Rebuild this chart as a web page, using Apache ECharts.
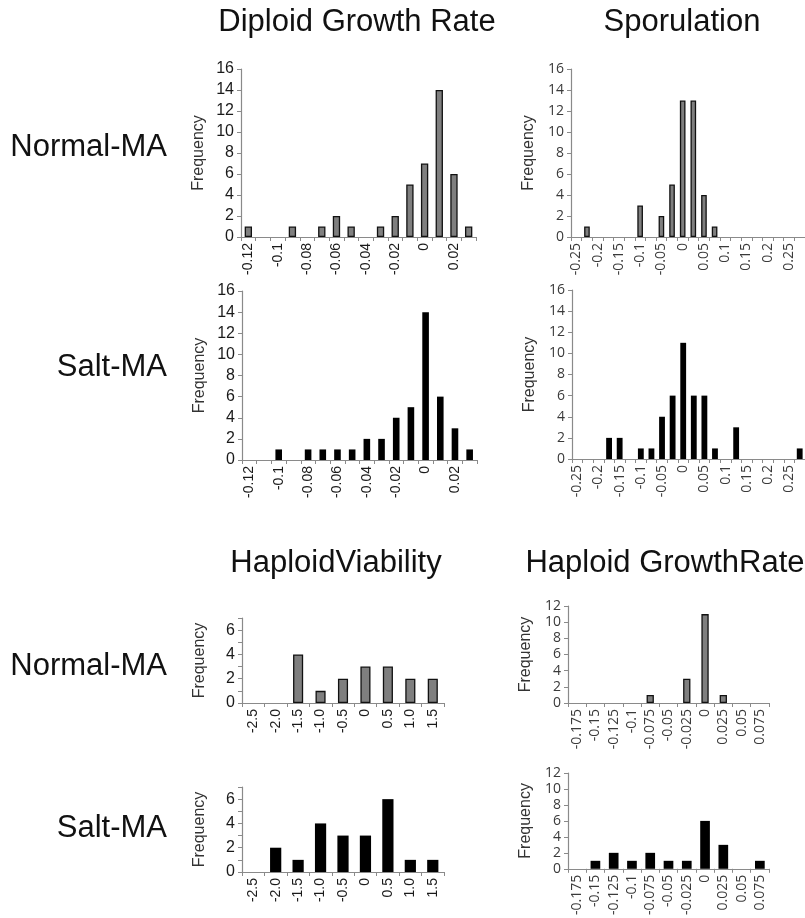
<!DOCTYPE html>
<html>
<head>
<meta charset="utf-8">
<title>MA distributions</title>
<script src="https://cdn.jsdelivr.net/npm/echarts@6/dist/echarts.min.js"></script>
<style>
  html, body { margin: 0; padding: 0; background: #fff; }
  #chart { width: 805px; height: 918px; }
</style>
</head>
<body>
<div id="chart"></div>
<script>
  // bin labels (x axis categories)
  const dipBins = ["-0.12", "-0.11", "-0.1", "-0.09", "-0.08", "-0.07", "-0.06", "-0.05",
    "-0.04", "-0.03", "-0.02", "-0.01", "0", "0.01", "0.02", "0.03"];
  const sporBins = ["-0.25", "-0.225", "-0.2", "-0.175", "-0.15", "-0.125", "-0.1", "-0.075",
    "-0.05", "-0.025", "0", "0.025", "0.05", "0.075", "0.1", "0.125", "0.15", "0.175",
    "0.2", "0.225", "0.25", "0.275"];
  const viaBins = ["-2.5", "-2.0", "-1.5", "-1.0", "-0.5", "0", "0.5", "1.0", "1.5"];
  const hapBins = ["-0.175", "-0.15", "-0.125", "-0.1", "-0.075", "-0.05", "-0.025", "0",
    "0.025", "0.05", "0.075"];

  // frequencies
  const dipNormal = [1, 0, 0, 1, 0, 1, 2, 1, 0, 1, 2, 5, 7, 14, 6, 1];
  const dipSalt = [0, 0, 1, 0, 1, 1, 1, 1, 2, 2, 4, 5, 14, 6, 3, 1];
  const sporNormal = [0, 1, 0, 0, 0, 0, 3, 0, 2, 5, 13, 13, 4, 1, 0, 0, 0, 0, 0, 0, 0, 0];
  const sporSalt = [0, 0, 0, 2, 2, 0, 1, 1, 4, 6, 11, 6, 6, 1, 0, 3, 0, 0, 0, 0, 0, 1];
  const viaNormal = [0, 0, 4, 1, 2, 3, 3, 2, 2];
  const viaSalt = [0, 2, 1, 4, 3, 3, 6, 1, 1];
  const hapNormal = [0, 0, 0, 0, 1, 0, 3, 11, 1, 0, 0];
  const hapSalt = [0, 1, 2, 1, 2, 1, 1, 6, 3, 0, 1];

  const colTitles = ["Diploid Growth Rate", "Sporulation", "HaploidViability", "Haploid GrowthRate"];
  const rowTitles = ["Normal-MA", "Salt-MA", "Normal-MA", "Salt-MA"];

  const arial = "'Liberation Sans', Arial, sans-serif";
  const calibri = "'Open Sans', sans-serif";
  const GRAY = "#7f7f7f";
  const BLACK = "#000";

  const chart = echarts.init(document.getElementById("chart"));

  // one entry per small histogram
  const panels = [
    { bins: dipBins, values: dipNormal, fill: GRAY, font: arial, every: 1, yMax: 16, yStep: 2, bw: "50%",
      grid: { left: 241, top: 69, width: 235, height: 168 } },
    { bins: sporBins, values: sporNormal, fill: GRAY, font: calibri, every: 1, yMax: 16, yStep: 2, bw: "53%",
      grid: { left: 571, top: 69, width: 238, height: 168 } },
    { bins: dipBins, values: dipSalt, fill: BLACK, font: arial, every: 1, yMax: 16, yStep: 2, bw: "45%",
      grid: { left: 242, top: 291, width: 235, height: 169 } },
    { bins: sporBins, values: sporSalt, fill: BLACK, font: calibri, every: 1, yMax: 16, yStep: 2, bw: "55%",
      grid: { left: 572, top: 290, width: 238, height: 169 } },
    { bins: viaBins, values: viaNormal, fill: GRAY, font: arial, every: 0, yMax: 7, yStep: 1, bw: "45%",
      grid: { left: 242, top: 618, width: 202, height: 85 } },
    { bins: hapBins, values: hapNormal, fill: GRAY, font: calibri, every: 0, yMax: 12, yStep: 2, bw: "40%",
      grid: { left: 568, top: 606, width: 201, height: 97 } },
    { bins: viaBins, values: viaSalt, fill: BLACK, font: arial, every: 0, yMax: 7, yStep: 1, bw: "50%",
      grid: { left: 242, top: 787, width: 202, height: 85 } },
    { bins: hapBins, values: hapSalt, fill: BLACK, font: calibri, every: 0, yMax: 12, yStep: 2, bw: "53%",
      grid: { left: 568, top: 773, width: 201, height: 99 } }
  ];

  const axisColor = "#8a8a8a";

  const title = [];
  const colX = [357, 682, 336, 665];
  const colY = [22, 22, 563, 563];
  colTitles.forEach((t, i) => {
    title.push({
      text: t, left: colX[i], top: colY[i], textAlign: "center", textVerticalAlign: "middle", padding: 0,
      textStyle: { fontFamily: arial, fontSize: 31, fontWeight: "normal", color: "#111" }
    });
  });
  const rowY = [147, 367, 666, 828];
  rowTitles.forEach((t, i) => {
    title.push({
      text: t, left: 167, top: rowY[i], textAlign: "right", textVerticalAlign: "middle", padding: 0,
      textStyle: { fontFamily: arial, fontSize: 31, fontWeight: "normal", color: "#111" }
    });
  });

  const option = {
    animation: false,
    backgroundColor: "#fff",
    title: title,
    grid: panels.map(p => Object.assign({ containLabel: false }, p.grid)),
    xAxis: panels.map((p, i) => ({
      type: "category",
      gridIndex: i,
      data: p.bins,
      boundaryGap: true,
      axisLine: { show: true, lineStyle: { color: axisColor, width: 1.2 } },
      axisTick: { show: true, interval: 0, length: 4, lineStyle: { color: axisColor } },
      axisLabel: {
        rotate: 90, interval: p.every, margin: 6,
        fontFamily: p.font, fontSize: 14,
        color: p.font === arial ? "#1a1a1a" : "#3a3a3a"
      },
      splitLine: { show: false }
    })),
    yAxis: panels.map((p, i) => ({
      type: "value",
      gridIndex: i,
      min: 0,
      max: p.yMax,
      interval: p.yStep,
      axisLine: { show: true, lineStyle: { color: axisColor, width: 1.2 } },
      axisTick: { show: true, length: 4, lineStyle: { color: axisColor } },
      splitLine: { show: false },
      axisLabel: {
        margin: 7,
        fontFamily: p.font, fontSize: p.font === arial ? 16 : 14,
        color: p.font === arial ? "#1a1a1a" : "#3a3a3a",
        // viability panels only label the even counts
        formatter: v => (p.yStep === 1 && v % 2 !== 0) ? "" : String(v)
      },
      name: "Frequency",
      nameLocation: "middle",
      nameGap: 34,
      nameTextStyle: { fontFamily: arial, fontSize: 16, color: "#333" }
    })),
    series: panels.map((p, i) => ({
      type: "bar",
      xAxisIndex: i,
      yAxisIndex: i,
      barWidth: p.bw,
      data: p.values.map(v => (v === 0 ? "-" : v)),
      itemStyle: {
        color: p.fill,
        borderColor: "#111",
        borderWidth: p.fill === GRAY ? 1.3 : 0
      }
    }))
  };

  chart.setOption(option);
</script>
</body>
</html>
